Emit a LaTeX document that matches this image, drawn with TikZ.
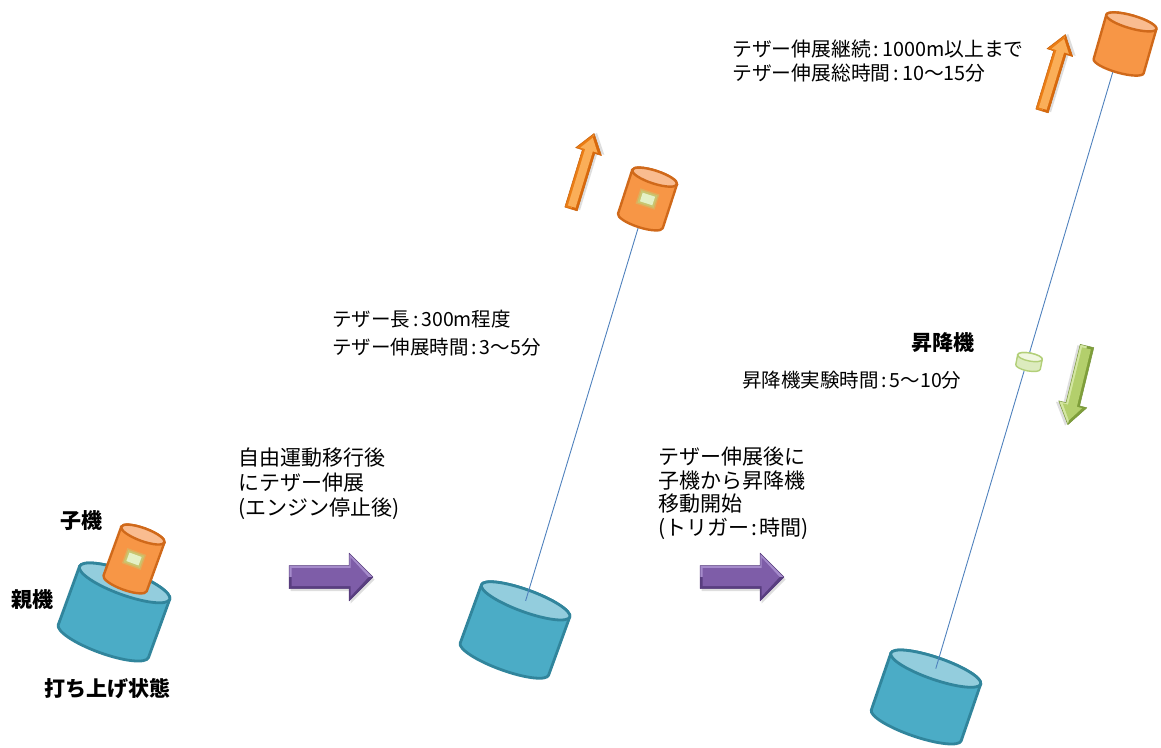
\documentclass[tikz,border=0pt]{standalone}
\usepackage{fontspec}
\setmainfont{Noto Sans CJK JP}
\definecolor{baseaqua}{HTML}{4BACC6}
\definecolor{baseedge}{HTML}{31859C}
\definecolor{baselid}{HTML}{93CDDD}
\definecolor{subfill}{HTML}{F79646}
\definecolor{subedge}{HTML}{D0691A}
\definecolor{sublid}{HTML}{F9BC90}
\definecolor{liftfill}{HTML}{DCEBBE}
\definecolor{liftlid}{HTML}{F0F7E0}
\definecolor{liftedge}{HTML}{B2CF78}
\definecolor{tetherblue}{HTML}{4F81BD}
\definecolor{winfill}{HTML}{E4F1C6}
\definecolor{winglow}{HTML}{B9D67E}
% arrow palettes: upper rim, face, lower rim, outline
\definecolor{orgUp}{HTML}{EB7D14}
\definecolor{orgFace}{HTML}{FAAE58}
\definecolor{orgLow}{HTML}{D9690C}
\definecolor{orgLine}{HTML}{C8620C}
\definecolor{vioUp}{HTML}{A58BCB}
\definecolor{vioFace}{HTML}{7E5DA8}
\definecolor{vioLow}{HTML}{593E80}
\definecolor{vioLine}{HTML}{54397A}
\definecolor{grnUp}{HTML}{7F9F3A}
\definecolor{grnFace}{HTML}{B3CF6C}
\definecolor{grnLow}{HTML}{D4E7A2}
\definecolor{grnLine}{HTML}{76943A}

% tilted drum: name, cx, cy, rotation, half width, half height, lid radius, style prefix
\newcommand{\drum}[8]{%
  \begin{scope}[shift={(#2,#3)}, x=1pt, y=1pt, rotate=#4]
    \path[#8 side] (-#5,#6) -- (-#5,-#6)
      arc[start angle=180, end angle=360, x radius=#5, y radius=#7]
      -- (#5,#6)
      arc[start angle=0, end angle=180, x radius=#5, y radius=#7] -- cycle;
    \path[#8 lid] (0,#6) ellipse[x radius=#5, y radius=#7];
    \coordinate (#1-lid) at (0,#6);
    \coordinate (#1-foot) at (0,-#6-#7);
    \coordinate (#1-mid) at (0,0);
  \end{scope}}

% small glowing window on a drum
\newcommand{\porthole}[2]{%
  \begin{scope}[shift={(#1)}, x=1pt, y=1pt, rotate=#2]
    \path[fill=winglow, opacity=0.35] (-10,-8) rectangle (10,8);
    \path[fill=winglow, opacity=0.6] (-8.5,-6.5) rectangle (8.5,6.5);
    \path[fill=winfill] (-6.5,-4.5) rectangle (6.5,4.5);
  \end{scope}}

% bevelled block arrow: tail x, tail y, angle, length, shaft half width, head half width, head length, palette
\newcommand{\blockarrow}[8]{%
  \begin{scope}[shift={(#1,#2)}, x=1pt, y=1pt, rotate=#3]
    \path[fill=black, opacity=0.13] (1.5,-#5-2.5) -- (#4-#7+1.5,-#5-2.5) -- (#4-#7+1.5,-#6-2.5)
      -- (#4+1.5,-2.5) -- (#4-#7+1.5,#6-2.5) -- (#4-#7+1.5,#5-2.5) -- (1.5,#5-2.5) -- cycle;
    \begin{scope}
      \clip (0,-#5) -- (#4-#7,-#5) -- (#4-#7,-#6) -- (#4,0)
        -- (#4-#7,#6) -- (#4-#7,#5) -- (0,#5) -- cycle;
      \fill[#8Low] (-2,-#6-2) rectangle (#4+2,0);
      \fill[#8Up] (-2,0) rectangle (#4+2,#6+2);
      \fill[#8Face] (2.5,-#5+2.5) -- (#4-#7+1.5,-#5+2.5) -- (#4-#7+1.5,-#6+4.5)
        -- (#4-4.5,0) -- (#4-#7+1.5,#6-4.5) -- (#4-#7+1.5,#5-2.5) -- (2.5,#5-2.5) -- cycle;
    \end{scope}
    \draw[#8Line, line width=0.5pt, line join=round] (0,-#5) -- (#4-#7,-#5) -- (#4-#7,-#6) -- (#4,0)
      -- (#4-#7,#6) -- (#4-#7,#5) -- (0,#5) -- cycle;
  \end{scope}}

\begin{document}
\begin{tikzpicture}[x=1pt, y=-1pt,
  base side/.style={fill=baseaqua, draw=baseedge, line width=2.8pt, line join=round},
  base lid/.style={fill=baselid, draw=baseedge, line width=2.8pt},
  sub side/.style={fill=subfill, draw=subedge, line width=2.4pt, line join=round},
  sub lid/.style={fill=sublid, draw=subedge, line width=2.4pt},
  lift side/.style={fill=liftfill, draw=liftedge, line width=1.4pt, line join=round},
  lift lid/.style={fill=liftlid, draw=liftedge, line width=1.4pt},
  tether/.style={draw=tetherblue, line width=0.9pt},
  note/.style={anchor=north west, align=left, inner sep=0pt},
  tag/.style={inner sep=0pt, font=\fontsize{21}{24}\selectfont\bfseries}]

\useasboundingbox (0,0) rectangle (1161,747);

% stage 1: stacked for launch
\drum{p1}{114}{612}{-20}{48}{31}{12}{base}
\drum{c1}{134}{559}{-20}{23}{26}{6.5}{sub}
\porthole{c1-mid}{-20}

% stage 2: tether paid out
\drum{p2}{515}{630}{-20}{47}{31}{11}{base}
\begin{scope}[shift={(647.5,199)}, x=1pt, y=1pt, rotate=-18]
  \coordinate (c2-foot) at (0,-29.5);
\end{scope}
\draw[tether] (c2-foot) -- (p2-lid);
\drum{c2}{647.5}{199}{-18}{23.5}{23}{6.5}{sub}
\porthole{c2-mid}{-18}

% stage 3: climber on the tether
\drum{p3}{926}{697}{-19}{47.5}{30}{11}{base}
\begin{scope}[shift={(1125,44)}, x=1pt, y=1pt, rotate=-16]
  \coordinate (c3-foot) at (-4,-29);
\end{scope}
\draw[tether] (c3-foot) -- (p3-lid);
\drum{lift}{1029}{362}{-11}{12.5}{5}{4}{lift}
\drum{c3}{1125}{44}{-16}{26}{23}{6.5}{sub}

% motion arrows
\blockarrow{571}{209}{73}{79}{6.5}{13.5}{19}{org}
\blockarrow{1042}{111}{73}{80}{6.5}{13.5}{19}{org}
\blockarrow{1087}{346}{-103.7}{81}{7}{14.5}{21}{grn}
\blockarrow{289}{577}{0}{84}{11.5}{24}{24}{vio}
\blockarrow{700}{577}{0}{84}{11.5}{24}{24}{vio}

% labels
\node[tag] (tChild) at (81,521) {子機};
\node[tag] (tParent) at (33,600) {親機};
\node[tag] (tLaunch) at (107,689) {打ち上げ状態};
\node[tag] (tLift) at (943,343) {昇降機};

\node[note, font=\fontsize{19.8}{23.5}\selectfont] (nTotal) at (732,40)
  {テザー伸展継続\kern.15em:\kern.15em 1000m以上まで\\テザー伸展総時間\kern.15em:\kern.15em 10〜15分};
\node[note, font=\fontsize{19.5}{28}\selectfont] (nLen) at (332,310)
  {テザー長\kern.15em:\kern.15em 300m程度\\テザー伸展時間\kern.15em:\kern.15em 3〜5分};
\node[note, font=\fontsize{19.5}{23.5}\selectfont] (nLift) at (742,371)
  {昇降機実験時間\kern.15em:\kern.15em 5〜10分};
\node[note, font=\fontsize{21}{25}\selectfont] (nStep1) at (238,448)
  {自由運動移行後\\にテザー伸展\\(エンジン停止後)};
\node[note, font=\fontsize{21}{23.5}\selectfont] (nStep2) at (658,447)
  {テザー伸展後に\\子機から昇降機\\移動開始\\(トリガー\kern.1em:\kern.1em 時間)};
\end{tikzpicture}
\end{document}
